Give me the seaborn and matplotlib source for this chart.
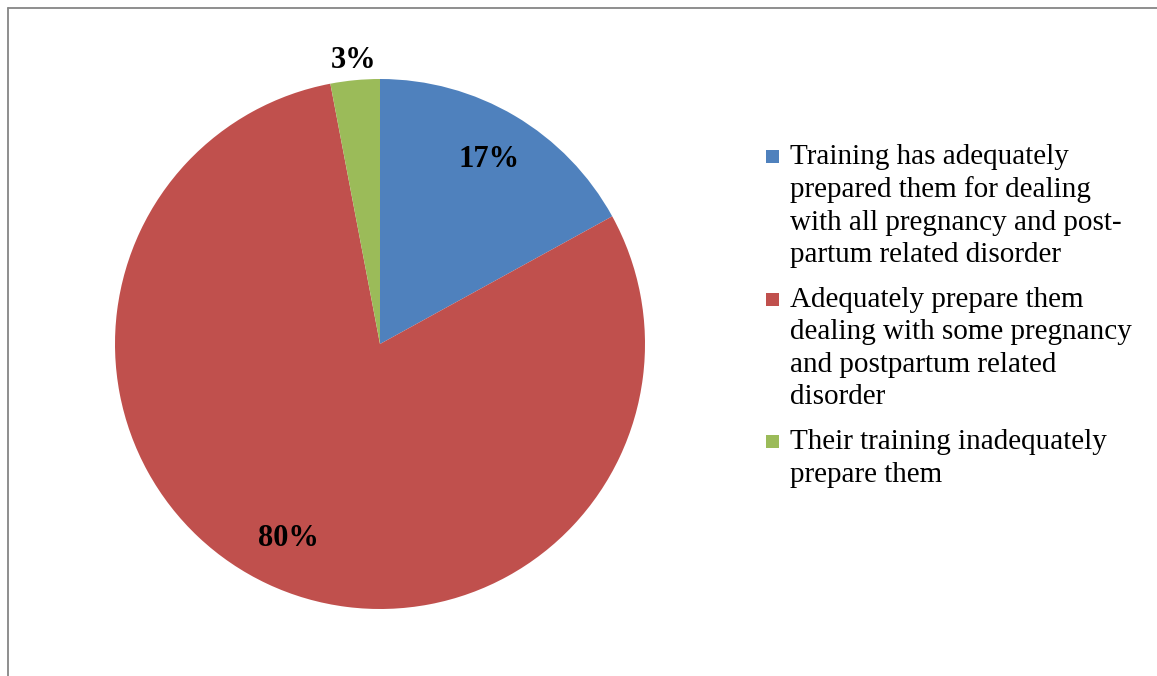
import numpy as np
import seaborn as sns
import matplotlib.pyplot as plt
from matplotlib.lines import Line2D
from matplotlib.patches import Rectangle
from matplotlib.legend_handler import HandlerPatch

sns.set_theme(style="white")
plt.rcParams['font.family'] = ['Liberation Serif', 'DejaVu Serif']

categories = [
    "Training has adequately\nprepared them for dealing\nwith all pregnancy and post-\npartum related disorder",
    "Adequately prepare them\ndealing with some pregnancy\nand postpartum related\ndisorder",
    "Their training inadequately\nprepare them",
]
shares = [17, 80, 3]
colors = sns.color_palette(["#4F81BD", "#C0504D", "#9BBB59"])

LINE_PT = 32.5 * 72 / 100  # line pitch of the legend text, in points


class TopSquare(HandlerPatch):
    """Small square marker lined up with the first line of a wrapped label."""

    def __init__(self, nlines, **kw):
        super().__init__(**kw)
        self.nlines = nlines

    def create_artists(self, legend, orig_handle, xdescent, ydescent,
                       width, height, fontsize, trans):
        size = 0.45 * fontsize
        shift = (self.nlines - 1) * LINE_PT / 2
        p = Rectangle((-xdescent, -ydescent + (height - size) / 2 + shift),
                      size, size, facecolor=orig_handle.get_facecolor(),
                      edgecolor="none", transform=trans)
        return [p]


fig = plt.figure(figsize=(11.57, 6.76), dpi=100)
ax = fig.add_axes([115 / 1157, 67 / 676, 530 / 1157, 530 / 676])

wedges, texts, autotexts = ax.pie(
    shares, colors=colors, startangle=90, counterclock=False,
    autopct="%1.0f%%", pctdistance=0.81,
    wedgeprops=dict(linewidth=0, edgecolor="none"),
    textprops=dict(fontsize=22, fontweight="bold", color="black"),
)
ax.set_xlim(-1, 1)
ax.set_ylim(-1, 1)
ax.set_aspect("equal")

# small slice: label sits outside the pie
for w, t, v in zip(wedges, autotexts, shares):
    if v < 5:
        mid = np.deg2rad((w.theta1 + w.theta2) / 2)
        t.set_position((1.075 * np.cos(mid), 1.075 * np.sin(mid)))

handler_map = {w: TopSquare(lab.count("\n") + 1) for w, lab in zip(wedges, categories)}
leg = fig.legend(
    wedges, categories, loc="upper left",
    bbox_to_anchor=(751 / 1157, 1 - 129 / 676),
    frameon=False, fontsize=21, handlelength=0.45, handleheight=0.45,
    handletextpad=0.4, labelspacing=0.65, borderpad=0,
    handler_map=handler_map,
)
for t in leg.get_texts():
    t.set_linespacing(1.32)
    t.set_color("black")

# frame around the chart area (left and top edges visible)
fig.add_artist(Line2D([7.5 / 1157, 7.5 / 1157], [0, 1 - 8 / 676],
                      transform=fig.transFigure, color="#868686", lw=1.3))
fig.add_artist(Line2D([7.5 / 1157, 1], [1 - 8 / 676, 1 - 8 / 676],
                      transform=fig.transFigure, color="#868686", lw=1.3))

fig.savefig("out.png", dpi=100)
